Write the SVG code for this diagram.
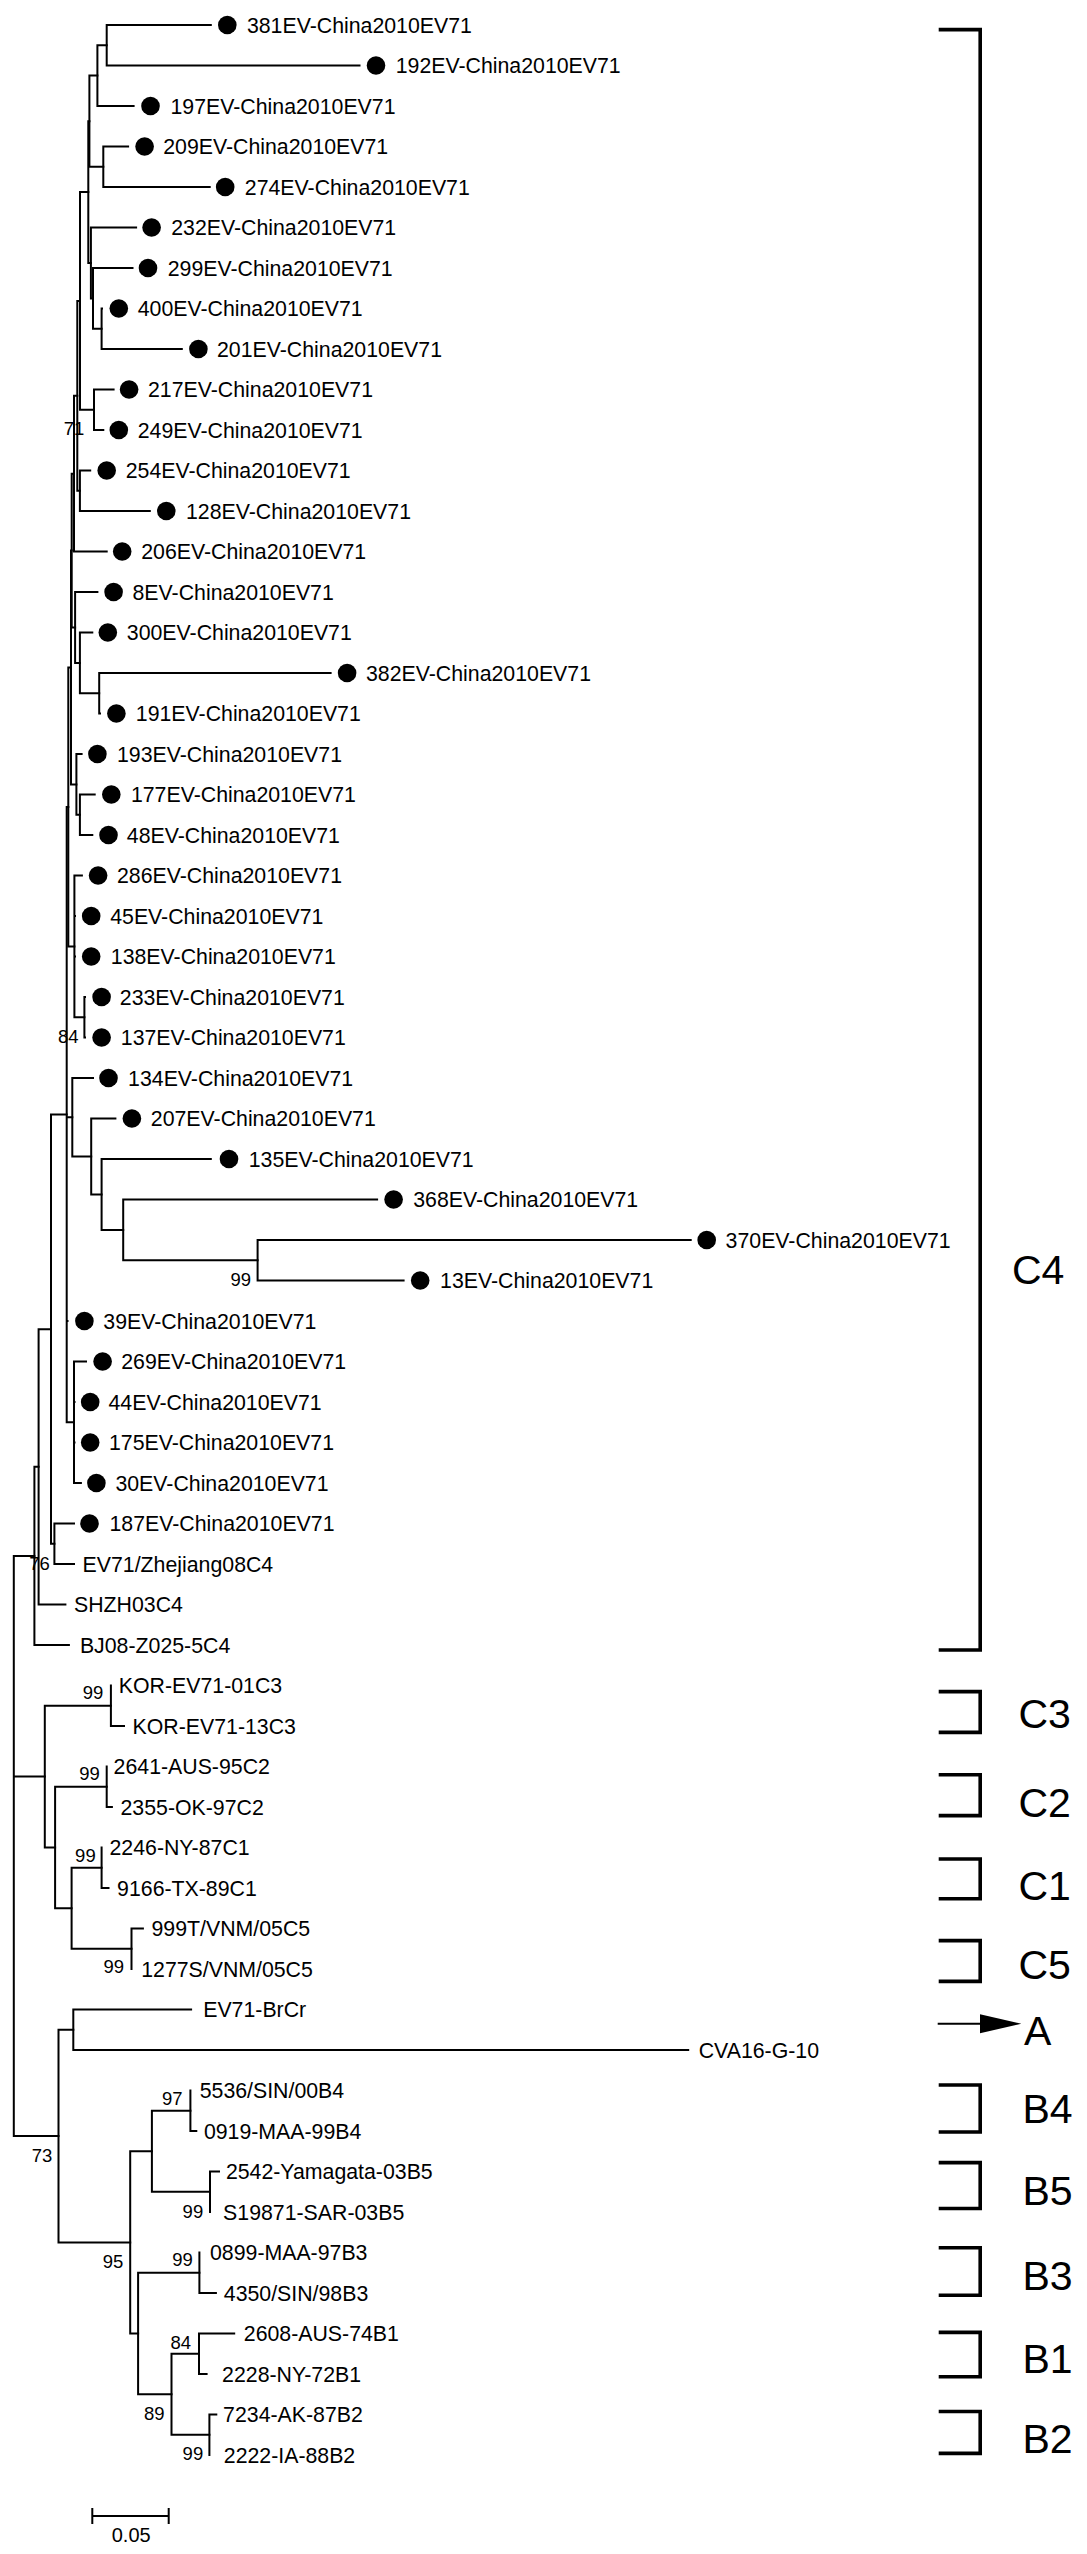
<svg xmlns="http://www.w3.org/2000/svg" width="1087" height="2554" viewBox="0 0 1087 2554">
<style>
.e{fill:none;stroke:#000;stroke-width:2;stroke-linecap:square}
.br{fill:none;stroke:#000;stroke-width:3.6}
.d{fill:#000}
.t{font-family:"Liberation Sans",Arial,sans-serif;font-size:21.3px;fill:#000}
.b{font-family:"Liberation Sans",Arial,sans-serif;font-size:18.5px;fill:#000;text-anchor:end}
.g{font-family:"Liberation Sans",Arial,sans-serif;font-size:41px;fill:#000}
.s{font-family:"Liberation Sans",Arial,sans-serif;font-size:20px;fill:#000;text-anchor:middle}
</style>
<rect width="1087" height="2554" fill="#fff"/>
<g id="connectors">
<path class="e" d="M106.7,25 V65.5 M106.7,25 H210.8 M106.7,65.5 H359.5"/>
<path class="e" d="M97.4,45.25 V106 H133.6 M97.4,45.25 H106.7"/>
<path class="e" d="M103.3,146.5 V187 M103.3,146.5 H128.1 M103.3,187 H209.7"/>
<path class="e" d="M89.4,75.6 V166.75 M89.4,75.6 H97.4 M89.4,166.75 H103.3"/>
<path class="e" d="M101.6,308.5 V349 M101.6,308.5 H102 M101.6,349 H181.8"/>
<path class="e" d="M93,268 V328.75 M93,268 H132.5 M93,328.75 H101.6"/>
<path class="e" d="M90.9,227.5 V298.4 M90.9,227.5 H136.1 M90.9,298.4 H93"/>
<path class="e" d="M88.3,121.2 V262.9 M88.3,121.2 H89.4 M88.3,262.9 H90.9"/>
<path class="e" d="M94,389.5 V430 M94,389.5 H113.6 M94,430 H103.3"/>
<path class="e" d="M80,192.05 V409.75 M80,192.05 H88.3 M80,409.75 H94"/>
<path class="e" d="M79.9,470.5 V511 M79.9,470.5 H90.2 M79.9,511 H149.8"/>
<path class="e" d="M77.3,300.9 V490.75 M77.3,300.9 H80 M77.3,490.75 H79.9"/>
<path class="e" d="M74,395.8 V551.5 M74,395.8 H77.3 M74,551.5 H106.7"/>
<path class="e" d="M99.2,673 V713.5 M99.2,673 H330.6 M99.2,713.5 H100"/>
<path class="e" d="M79.9,632.5 V693.25 M79.9,632.5 H92.3 M79.9,693.25 H99.2"/>
<path class="e" d="M75.1,592 V662.9 M75.1,592 H97.4 M75.1,662.9 H79.9"/>
<path class="e" d="M71.7,473.65 V627.45 M71.7,473.65 H74 M71.7,627.45 H75.1"/>
<path class="e" d="M79.9,794.5 V835 M79.9,794.5 H94.7 M79.9,835 H92.3"/>
<path class="e" d="M76.4,754 V814.75 M76.4,754 H81.6 M76.4,814.75 H79.9"/>
<path class="e" d="M71,550.55 V784.4 M71,550.55 H71.7 M71,784.4 H76.4"/>
<path class="e" d="M84.4,997 V1037.5 M84.4,997 H85 M84.4,1037.5 H85"/>
<path class="e" d="M74.4,875.5 V1017.25 M74.4,875.5 H81.9 M74.4,916 H75 M74.4,956.5 H75 M74.4,1017.25 H84.4"/>
<path class="e" d="M68.3,667.5 V946.4 M68.3,667.5 H71 M68.3,946.4 H74.4"/>
<path class="e" d="M257.6,1240 V1280.5 M257.6,1240 H690.7 M257.6,1280.5 H403.6"/>
<path class="e" d="M123.2,1199.5 V1260.25 M123.2,1199.5 H377.1 M123.2,1260.25 H257.6"/>
<path class="e" d="M101.6,1159 V1229.9 M101.6,1159 H210.8 M101.6,1229.9 H123.2"/>
<path class="e" d="M91.2,1118.5 V1194.45 M91.2,1118.5 H115.4 M91.2,1194.45 H101.6"/>
<path class="e" d="M72.3,1078 V1156.5 M72.3,1078 H93 M72.3,1156.5 H91.2"/>
<path class="e" d="M74,1361.5 V1483 M74,1361.5 H86 M74,1402 H74.5 M74,1442.5 H74.5 M74,1483 H80.9"/>
<path class="e" d="M66.7,806.95 V1422.25 M66.7,806.95 H68.3 M66.7,1117.25 H72.3 M66.7,1321 H67.5 M66.7,1422.25 H74"/>
<path class="e" d="M54.4,1523.5 V1564 M54.4,1523.5 H74 M54.4,1564 H74"/>
<path class="e" d="M51,1114.6 V1543.75 M51,1114.6 H66.7 M51,1543.75 H54.4"/>
<path class="e" d="M38.6,1329.2 V1604.5 M38.6,1329.2 H51 M38.6,1604.5 H65.4"/>
<path class="e" d="M34.4,1466.85 V1645 M34.4,1466.85 H38.6 M34.4,1645 H68.9"/>
<path class="e" d="M110.9,1685.5 V1726 H124"/>
<path class="e" d="M106.7,1766.5 V1807 H111.9"/>
<path class="e" d="M101.6,1847.5 V1888 H108.5"/>
<path class="e" d="M131.5,1928.5 V1969 M131.5,1928.5 H142.9"/>
<path class="e" d="M71.6,1867.75 V1948.75 M71.6,1867.75 H101.6 M71.6,1948.75 H131.5"/>
<path class="e" d="M55.1,1786.75 V1908.25 M55.1,1786.75 H106.7 M55.1,1908.25 H71.6"/>
<path class="e" d="M44.8,1705.75 V1847.5 M44.8,1705.75 H110.9 M44.8,1847.5 H55.1"/>
<path class="e" d="M73.3,2009.5 V2050 M73.3,2009.5 H191.1 M73.3,2050 H688.2"/>
<path class="e" d="M190.4,2090.5 V2131 H196.3"/>
<path class="e" d="M210,2171.5 V2212 M210,2171.5 H219"/>
<path class="e" d="M151.9,2110.75 V2191.75 M151.9,2110.75 H190.4 M151.9,2191.75 H210"/>
<path class="e" d="M199.4,2252.5 V2293 H215.9"/>
<path class="e" d="M199,2333.5 V2374 M199,2333.5 H234.2 M199,2374 H206.6"/>
<path class="e" d="M209.4,2414.5 V2455 M209.4,2414.5 H216.3"/>
<path class="e" d="M171.5,2353.75 V2434.75 M171.5,2353.75 H199 M171.5,2434.75 H209.4"/>
<path class="e" d="M138.1,2272.75 V2394.25 M138.1,2272.75 H199.4 M138.1,2394.25 H171.5"/>
<path class="e" d="M130.2,2151.25 V2333.5 M130.2,2151.25 H151.9 M130.2,2333.5 H138.1"/>
<path class="e" d="M58.5,2029.75 V2242.4 M58.5,2029.75 H73.3 M58.5,2242.4 H130.2"/>
<path class="e" d="M13.8,1555.9 V2136.1 M13.8,1555.9 H34.4 M13.8,1776.6 H44.8 M13.8,2136.1 H58.5"/>
</g>
<g id="bootstrap">
<text class="b" x="84.4" y="434.6">71</text>
<text class="b" x="78.5" y="1043.3">84</text>
<text class="b" x="251" y="1285.6">99</text>
<text class="b" x="49.9" y="1569.6">76</text>
<text class="b" x="103.3" y="1699.3">99</text>
<text class="b" x="99.9" y="1779.9">99</text>
<text class="b" x="95.7" y="1861.6">99</text>
<text class="b" x="124" y="1973.3">99</text>
<text class="b" x="52.3" y="2162.1">73</text>
<text class="b" x="182.5" y="2104.6">97</text>
<text class="b" x="203.2" y="2217.6">99</text>
<text class="b" x="123.3" y="2268.1">95</text>
<text class="b" x="192.8" y="2266.3">99</text>
<text class="b" x="191.1" y="2348.6">84</text>
<text class="b" x="164.6" y="2420">89</text>
<text class="b" x="203.2" y="2460">99</text>
</g>
<g id="n381"><circle class="d" cx="227.3" cy="25" r="9.3"/><text class="t" x="246.9" y="32.5">381EV-China2010EV71</text></g>
<g id="n192"><circle class="d" cx="376" cy="65.5" r="9.3"/><text class="t" x="395.7" y="73">192EV-China2010EV71</text></g>
<g id="n197"><circle class="d" cx="150.5" cy="106" r="9.3"/><text class="t" x="170.5" y="113.5">197EV-China2010EV71</text></g>
<g id="n209"><circle class="d" cx="144.6" cy="146.5" r="9.3"/><text class="t" x="163.2" y="154">209EV-China2010EV71</text></g>
<g id="n274"><circle class="d" cx="225.2" cy="187" r="9.3"/><text class="t" x="244.8" y="194.5">274EV-China2010EV71</text></g>
<g id="n232"><circle class="d" cx="151.6" cy="227.5" r="9.3"/><text class="t" x="171.2" y="235">232EV-China2010EV71</text></g>
<g id="n299"><circle class="d" cx="148" cy="268" r="9.3"/><text class="t" x="167.7" y="275.5">299EV-China2010EV71</text></g>
<g id="n400"><circle class="d" cx="118.8" cy="308.5" r="9.3"/><text class="t" x="137.7" y="316">400EV-China2010EV71</text></g>
<g id="n201"><circle class="d" cx="198.4" cy="349" r="9.3"/><text class="t" x="217" y="356.5">201EV-China2010EV71</text></g>
<g id="n217"><circle class="d" cx="129.1" cy="389.5" r="9.3"/><text class="t" x="148" y="397">217EV-China2010EV71</text></g>
<g id="n249"><circle class="d" cx="118.8" cy="430" r="9.3"/><text class="t" x="137.7" y="437.5">249EV-China2010EV71</text></g>
<g id="n254"><circle class="d" cx="106.7" cy="470.5" r="9.3"/><text class="t" x="125.7" y="478">254EV-China2010EV71</text></g>
<g id="n128"><circle class="d" cx="166.3" cy="511" r="9.3"/><text class="t" x="186" y="518.5">128EV-China2010EV71</text></g>
<g id="n206"><circle class="d" cx="122.2" cy="551.5" r="9.3"/><text class="t" x="141.2" y="559">206EV-China2010EV71</text></g>
<g id="n8"><circle class="d" cx="113.6" cy="592" r="9.3"/><text class="t" x="132.5" y="599.5">8EV-China2010EV71</text></g>
<g id="n300"><circle class="d" cx="107.8" cy="632.5" r="9.3"/><text class="t" x="126.8" y="640">300EV-China2010EV71</text></g>
<g id="n382"><circle class="d" cx="347.1" cy="673" r="9.3"/><text class="t" x="366" y="680.5">382EV-China2010EV71</text></g>
<g id="n191"><circle class="d" cx="116.4" cy="713.5" r="9.3"/><text class="t" x="135.8" y="721">191EV-China2010EV71</text></g>
<g id="n193"><circle class="d" cx="97.4" cy="754" r="9.3"/><text class="t" x="117" y="761.5">193EV-China2010EV71</text></g>
<g id="n177"><circle class="d" cx="111.3" cy="794.5" r="9.3"/><text class="t" x="130.9" y="802">177EV-China2010EV71</text></g>
<g id="n48"><circle class="d" cx="108.5" cy="835" r="9.3"/><text class="t" x="126.8" y="842.5">48EV-China2010EV71</text></g>
<g id="n286"><circle class="d" cx="98.1" cy="875.5" r="9.3"/><text class="t" x="117" y="883">286EV-China2010EV71</text></g>
<g id="n45"><circle class="d" cx="91.2" cy="916" r="9.3"/><text class="t" x="110.2" y="923.5">45EV-China2010EV71</text></g>
<g id="n138"><circle class="d" cx="91.2" cy="956.5" r="9.3"/><text class="t" x="110.8" y="964">138EV-China2010EV71</text></g>
<g id="n233"><circle class="d" cx="101.6" cy="997" r="9.3"/><text class="t" x="119.8" y="1004.5">233EV-China2010EV71</text></g>
<g id="n137"><circle class="d" cx="101.6" cy="1037.5" r="9.3"/><text class="t" x="120.8" y="1045">137EV-China2010EV71</text></g>
<g id="n134"><circle class="d" cx="108.5" cy="1078" r="9.3"/><text class="t" x="128.1" y="1085.5">134EV-China2010EV71</text></g>
<g id="n207"><circle class="d" cx="131.9" cy="1118.5" r="9.3"/><text class="t" x="150.8" y="1126">207EV-China2010EV71</text></g>
<g id="n135"><circle class="d" cx="229" cy="1159" r="9.3"/><text class="t" x="248.7" y="1166.5">135EV-China2010EV71</text></g>
<g id="n368"><circle class="d" cx="393.6" cy="1199.5" r="9.3"/><text class="t" x="413.2" y="1207">368EV-China2010EV71</text></g>
<g id="n370"><circle class="d" cx="706.7" cy="1240" r="9.3"/><text class="t" x="725.6" y="1247.5">370EV-China2010EV71</text></g>
<g id="n13"><circle class="d" cx="420.2" cy="1280.5" r="9.3"/><text class="t" x="440.1" y="1288">13EV-China2010EV71</text></g>
<g id="n39"><circle class="d" cx="84.4" cy="1321" r="9.3"/><text class="t" x="103.3" y="1328.5">39EV-China2010EV71</text></g>
<g id="n269"><circle class="d" cx="102.6" cy="1361.5" r="9.3"/><text class="t" x="121.2" y="1369">269EV-China2010EV71</text></g>
<g id="n44"><circle class="d" cx="90.2" cy="1402" r="9.3"/><text class="t" x="108.5" y="1409.5">44EV-China2010EV71</text></g>
<g id="n175"><circle class="d" cx="90.2" cy="1442.5" r="9.3"/><text class="t" x="109" y="1450">175EV-China2010EV71</text></g>
<g id="n30"><circle class="d" cx="96.4" cy="1483" r="9.3"/><text class="t" x="115.4" y="1490.5">30EV-China2010EV71</text></g>
<g id="n187"><circle class="d" cx="89.5" cy="1523.5" r="9.3"/><text class="t" x="109.5" y="1531">187EV-China2010EV71</text></g>
<g id="nZhejiang"><text class="t" x="82.6" y="1571.5">EV71/Zhejiang08C4</text></g>
<g id="nSHZH"><text class="t" x="74" y="1612">SHZH03C4</text></g>
<g id="nBJ08"><text class="t" x="79.9" y="1652.5">BJ08-Z025-5C4</text></g>
<g id="nKOR01"><text class="t" x="118.8" y="1693">KOR-EV71-01C3</text></g>
<g id="nKOR13"><text class="t" x="132.6" y="1733.5">KOR-EV71-13C3</text></g>
<g id="n2641"><text class="t" x="113.6" y="1774">2641-AUS-95C2</text></g>
<g id="n2355"><text class="t" x="120.5" y="1814.5">2355-OK-97C2</text></g>
<g id="n2246"><text class="t" x="109.5" y="1855">2246-NY-87C1</text></g>
<g id="n9166"><text class="t" x="117.1" y="1895.5">9166-TX-89C1</text></g>
<g id="n999T"><text class="t" x="151.5" y="1936">999T/VNM/05C5</text></g>
<g id="n1277S"><text class="t" x="141.2" y="1976.5">1277S/VNM/05C5</text></g>
<g id="nBrCr"><text class="t" x="203.2" y="2017">EV71-BrCr</text></g>
<g id="nCVA16"><text class="t" x="698.7" y="2057.5">CVA16-G-10</text></g>
<g id="n5536"><text class="t" x="199.7" y="2098">5536/SIN/00B4</text></g>
<g id="n0919"><text class="t" x="203.9" y="2138.5">0919-MAA-99B4</text></g>
<g id="n2542"><text class="t" x="225.9" y="2179">2542-Yamagata-03B5</text></g>
<g id="nS19871"><text class="t" x="223.1" y="2219.5">S19871-SAR-03B5</text></g>
<g id="n0899"><text class="t" x="210" y="2260">0899-MAA-97B3</text></g>
<g id="n4350"><text class="t" x="223.8" y="2300.5">4350/SIN/98B3</text></g>
<g id="n2608"><text class="t" x="243.8" y="2341">2608-AUS-74B1</text></g>
<g id="n2228"><text class="t" x="222.1" y="2381.5">2228-NY-72B1</text></g>
<g id="n7234"><text class="t" x="223.1" y="2422">7234-AK-87B2</text></g>
<g id="n2222"><text class="t" x="223.8" y="2462.5">2222-IA-88B2</text></g>
<g id="clades">
<path class="br" d="M938.7,29.6 H980.2 V1650 H938.7"/>
<text class="g" x="1012" y="1283.7">C4</text>
<path class="br" d="M938.7,1691.6 H980.2 V1732.4 H938.7"/>
<text class="g" x="1018.5" y="1728.3">C3</text>
<path class="br" d="M938.7,1774.8 H980.2 V1815.6 H938.7"/>
<text class="g" x="1018.5" y="1816.5">C2</text>
<path class="br" d="M938.7,1859 H980.2 V1898.8 H938.7"/>
<text class="g" x="1018.5" y="1900.2">C1</text>
<path class="br" d="M938.7,1940.6 H980.2 V1981.4 H938.7"/>
<text class="g" x="1018.5" y="1978.7">C5</text>
<path class="e" d="M938.7,2023.8 H982"/>
<polygon class="d" points="980,2014.3 1021.3,2023.8 980,2033.3"/>
<text class="g" x="1024" y="2044.7">A</text>
<path class="br" d="M938.7,2085 H980.2 V2132 H938.7"/>
<text class="g" x="1022.4" y="2122.7">B4</text>
<path class="br" d="M938.7,2162.6 H980.2 V2208.5 H938.7"/>
<text class="g" x="1022.4" y="2205.3">B5</text>
<path class="br" d="M938.7,2247.8 H980.2 V2295.2 H938.7"/>
<text class="g" x="1022.4" y="2289.5">B3</text>
<path class="br" d="M938.7,2332.4 H980.2 V2376.8 H938.7"/>
<text class="g" x="1022.4" y="2372.7">B1</text>
<path class="br" d="M938.7,2411.5 H980.2 V2453.4 H938.7"/>
<text class="g" x="1022.4" y="2452.7">B2</text>
</g>
<g id="scale">
<path class="e" d="M92.3,2516 H168.7 M92.3,2509 V2523 M168.7,2509 V2523"/>
<text class="s" x="131.2" y="2542">0.05</text>
</g>
</svg>
